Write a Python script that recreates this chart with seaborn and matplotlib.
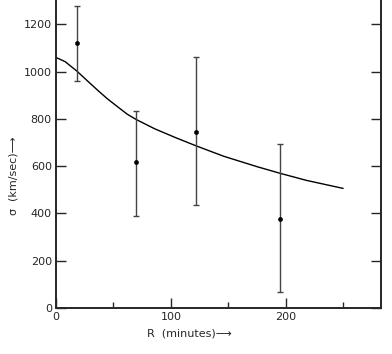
import numpy as np
import pandas as pd
import seaborn as sns
import matplotlib.pyplot as plt
from matplotlib.ticker import MultipleLocator

# measured points (R in minutes, sigma in km/sec) with error bar ends
r_obs = [18, 70, 122, 195]
sigma_obs = [1119, 616, 744, 376]
sigma_hi = [1277, 833, 1061, 692]
sigma_lo = [960, 389, 434, 66]

# model curve
r_model = [0, 8, 18, 28, 37, 45, 54, 62, 70, 86, 104, 122, 146, 175, 195, 218, 250]
sigma_model = [1060, 1042, 1003, 958, 918, 884, 850, 820, 797, 758, 721, 686,
               642, 598, 570, 540, 506]

sns.set_style("ticks")
plt.rcParams['font.family'] = ['DejaVu Sans']

fig = plt.figure(figsize=(3.92, 3.54), dpi=100)
ax = fig.add_axes([56/392, 1-308/354, 325/392, 308/354])

curve = pd.DataFrame({'R': r_model, 'sigma': sigma_model})
sns.lineplot(data=curve, x='R', y='sigma', color='black', lw=1.0, ax=ax)

obs = pd.DataFrame({'R': r_obs, 'sigma': sigma_obs})
yerr = [np.array(sigma_obs) - np.array(sigma_lo), np.array(sigma_hi) - np.array(sigma_obs)]
ax.errorbar(r_obs, sigma_obs, yerr=yerr, fmt='none', ecolor='#444444',
            elinewidth=1.0, capsize=2, capthick=1.0)
sns.scatterplot(data=obs, x='R', y='sigma', color='black', s=10, ax=ax,
                edgecolor='black', zorder=5)

ax.set_xlim(0, 283)
ax.set_ylim(0, 1303)
ax.xaxis.set_major_locator(MultipleLocator(100))
ax.xaxis.set_minor_locator(MultipleLocator(50))
ax.yaxis.set_major_locator(MultipleLocator(200))
ax.tick_params(axis='both', which='major', direction='in', length=7, width=1.0,
               labelsize=8, right=True, pad=3)
ax.tick_params(axis='x', which='minor', direction='in', length=4, width=1.0)
ax.spines['top'].set_visible(False)
for s in ['left', 'right', 'bottom']:
    ax.spines[s].set_linewidth(1.4)

ax.set_xlabel('R  (minutes)\u27f6', fontsize=8)
ax.set_ylabel('\u03c3  (km/sec)\u27f6', fontsize=8)
ax.xaxis.set_label_coords(0.41, -0.065)
ax.yaxis.set_label_coords(-0.115, 0.43)

fig.savefig('out.png', dpi=100)
